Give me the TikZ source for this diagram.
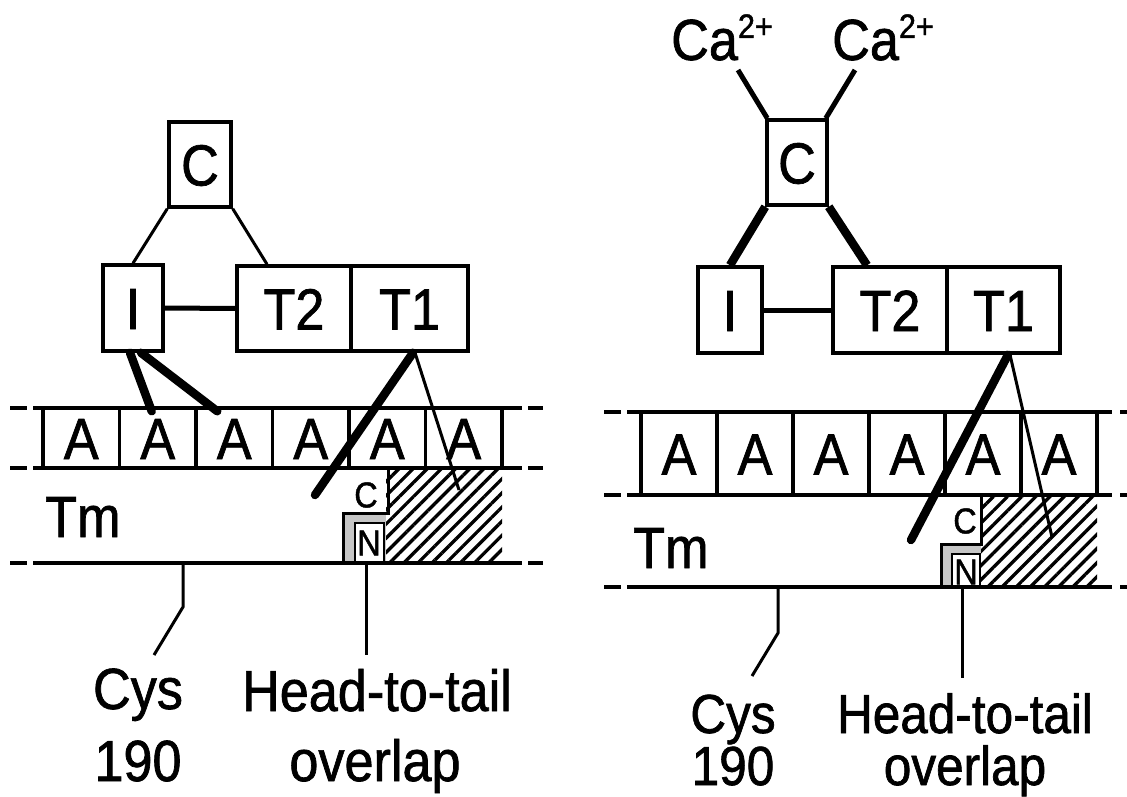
\documentclass[tikz,border=0pt]{standalone}
\usepackage{fontspec}
\setmainfont{Liberation Sans}[FakeStretch=0.9,FakeBold=1.2]
\usetikzlibrary{patterns.meta,calc}
\newcommand\lblfont{\fontsize{58}{62}\selectfont}
\newcommand\lblfontR{\fontsize{55}{60}\selectfont}
\newcommand\smallletterfont{\fontsize{36}{40}\selectfont}
\newcommand\ionchargefont{\fontsize{34}{34}\selectfont}
\begin{document}
\begin{tikzpicture}[x=1pt,y=-1pt,
  box/.style={draw,line width=3.5pt,inner sep=0pt,font=\lblfont,text height=42pt,text depth=0pt},
  rowline/.style={line width=4pt},
  thinln/.style={line width=3pt},
  midln/.style={line width=5pt},
  thickln/.style={line width=8.5pt,line cap=round},
  lbl/.style={font=\lblfont,inner sep=0pt,anchor=base},
  lblR/.style={font=\lblfontR,inner sep=0pt,anchor=base},
  hatch/.style={pattern={Lines[angle=45,distance=10pt,line width=3.3pt]}}]
\useasboundingbox[fill=white] (0,0) rectangle (1127,797);

% ================= LEFT PANEL =================
\fill[hatch] (386,470) rectangle (502,563);
\fill[white] (345,470) rectangle (386,513);
\fill[gray!45] (344,513) rectangle (386,563);
\draw[line width=2pt,fill=white] (355,523) rectangle (384,563);
\draw[thinln] (388,468) -- (388,513) -- (343,513) -- (343,563);
\node[font=\smallletterfont,inner sep=0pt] (cL) at (366,495) {C};
\node[font=\smallletterfont,inner sep=0pt] (nL) at (369,543) {N};

\foreach \yy in {408,468,563} {
  \draw[rowline] (10,\yy) -- (27,\yy);
  \draw[rowline] (33,\yy) -- (522,\yy);
  \draw[rowline] (528,\yy) -- (543,\yy);
}
\foreach \i in {1,...,6} {
  \node[box,minimum width=76.5pt,minimum height=60pt] (LA\i) at ({43+76.5*(\i-0.5)},438) {A};
}
\node[font=\lblfont,inner sep=0pt,anchor=base west] (tmL) at (45,537) {Tm};

\node[box,minimum width=62pt,minimum height=85pt] (C1) at (200,164.5) {C};
\node[box,minimum width=60pt,minimum height=86pt] (I1) at (133,308) {I};
\node[box,minimum width=114pt,minimum height=85pt] (T2L) at (294,308.5) {T2};
\node[box,minimum width=117pt,minimum height=85pt] (T1L) at (409.5,308.5) {T1};

\draw[thinln] (C1.south west) -- (I1.north);
\draw[thinln] (C1.south east) -- ([xshift=-27pt]T2L.north);
\draw[midln] (I1.east) -- (T2L.west);
\draw[thickln] ([xshift=-3pt]I1.south) -- ([xshift=-6pt,yshift=-5pt]LA2.north);
\draw[thickln] ([xshift=8pt]I1.south) -- ([xshift=-17pt,yshift=-5pt]LA3.north);
\coordinate (t1thickL) at (315,495);
\coordinate (t1thinL) at (459,490);
\draw[thickln] ([xshift=3.5pt]T1L.south) -- (t1thickL);
\draw[thinln] ([xshift=5.5pt]T1L.south) -- (t1thinL);

\node[lbl] (cysL) at (138,709) {Cys};
\node[lbl] (numL) at (138,781) {190};
\node[lbl] (headL) at (377,711) {Head-to-tail};
\node[lbl] (ovlL) at (375,781) {overlap};
\coordinate (cysTopL) at (183,563);
\coordinate (cysEndL) at (154,655);
\coordinate (headTopL) at (366,563);
\coordinate (headEndL) at (366,655);
\draw[thinln] (cysTopL) -- (183,607) -- (cysEndL);
\draw[thinln] (headTopL) -- (headEndL);

% ================= RIGHT PANEL =================
\fill[hatch] (980,497) rectangle (1097,587);
\fill[white] (943,497) rectangle (981,544);
\fill[gray!45] (941,544) rectangle (981,587);
\draw[line width=2pt,fill=white] (952,554) rectangle (980,587);
\draw[thinln] (981,495) -- (981,544) -- (941,544) -- (941,587);
\node[font=\smallletterfont,inner sep=0pt] (cR) at (965,521) {C};
\node[font=\smallletterfont,inner sep=0pt] (nR) at (966,572) {N};

\foreach \yy in {412,495,587} {
  \draw[rowline] (604,\yy) -- (621,\yy);
  \draw[rowline] (627,\yy) -- (1112,\yy);
  \draw[rowline] (1120,\yy) -- (1127,\yy);
}
\foreach \i in {1,...,6} {
  \node[box,minimum width=76pt,minimum height=83pt] (RA\i) at ({641+76*(\i-0.5)},453.5) {A};
}
\node[font=\lblfont,inner sep=0pt,anchor=base west] (tmR) at (633,568) {Tm};

\node[box,minimum width=60pt,minimum height=85pt] (C2) at (797,162.5) {C};
\node[box,minimum width=64pt,minimum height=86pt] (I2) at (730,310) {I};
\node[box,minimum width=114pt,minimum height=86pt] (T2R) at (890,310) {T2};
\node[box,minimum width=113pt,minimum height=86pt] (T1R) at (1003.5,310) {T1};

\node[font=\lblfont,inner sep=0pt,anchor=base west] (ca1) at (671,60) {Ca\raisebox{22pt}{\ionchargefont 2+}};
\node[font=\lblfont,inner sep=0pt,anchor=base west] (ca2) at (832,60) {Ca\raisebox{22pt}{\ionchargefont 2+}};
\coordinate (ca1end) at (738,70);
\coordinate (ca2end) at (855,70);
\draw[midln] (ca1end) -- ([xshift=2pt]C2.north west);
\draw[midln] (ca2end) -- ([xshift=-3pt]C2.north east);

\draw[thickln,line cap=butt] (C2.south west) -- (I2.north);
\draw[thickln,line cap=butt] (C2.south east) -- ([xshift=-23pt]T2R.north);
\draw[midln] (I2.east) -- (T2R.west);
\coordinate (t1thickR) at (911,540);
\coordinate (t1thinR) at (1052,537);
\draw[thickln] ([xshift=4.5pt]T1R.south) -- (t1thickR);
\draw[thinln] ([xshift=6.5pt]T1R.south) -- (t1thinR);

\node[lblR] (cysR) at (733,733) {Cys};
\node[lblR] (numR) at (733,785) {190};
\node[lblR] (headR) at (965,733) {Head-to-tail};
\node[lblR] (ovlR) at (965,785) {overlap};
\coordinate (cysTopR) at (778,587);
\coordinate (cysEndR) at (752,676);
\coordinate (headTopR) at (962,587);
\coordinate (headEndR) at (962,678);
\draw[thinln] (cysTopR) -- (778,633) -- (cysEndR);
\draw[thinln] (headTopR) -- (headEndR);
\end{tikzpicture}
\end{document}
